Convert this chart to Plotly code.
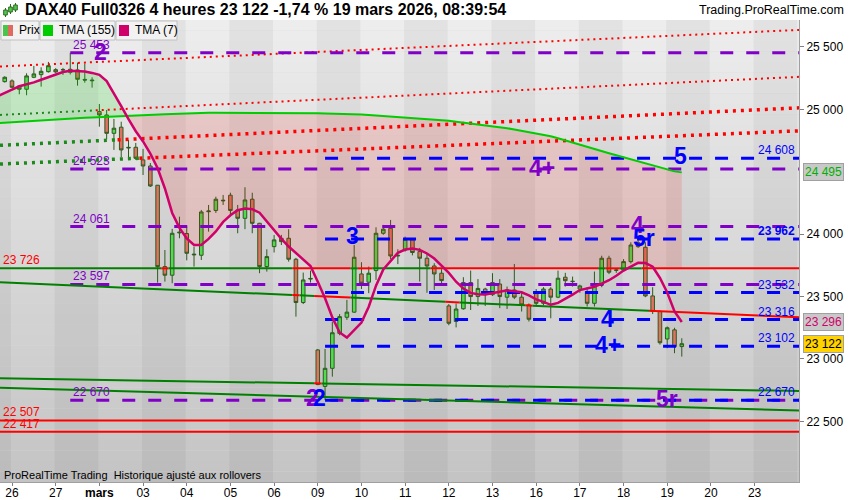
import plotly.graph_objects as go

# ---------------- data ----------------
bars = list(range(-1, 93))
opens = [25222, 25228, 25187, 25161, 25257, 25278, 25302, 25318, 25316, 25321, 25316, 25240, 25235,
         24982, 24955, 24808, 24857, 24690, 24696, 24595, 24546, 24392, 23740, 23671, 24010,
         24005, 23840, 23831, 24180, 24190, 24272, 24312, 24194, 24127, 24280, 24087, 23740,
         23900, 23967, 23967, 23799, 23452, 23640, 23072, 22780, 22925, 23205, 23334, 23375,
         23681, 23615, 23708, 24007, 24047, 23825, 23873, 23954, 23860, 23807, 23745, 23687,
         23425, 23300, 23402, 23612, 23500, 23560, 23515, 23600, 23495, 23553, 23495, 23433,
         23527, 23446, 23560, 23495, 23655, 23620, 23560, 23540, 23446, 23593, 23807, 23710,
         23713, 23780, 23932, 23895, 23505, 23380, 23160, 23233, 23099]
highs = [25265, 25240, 25195, 25289, 25348, 25337, 25380, 25330, 25332, 25453, 25374, 25364, 25257,
         25043, 24995, 24923, 24901, 24755, 24731, 24683, 24570, 24394, 23873, 24042, 24140,
         24060, 23900, 24194, 24234, 24300, 24314, 24332, 24234, 24376, 24332, 24090, 23879,
         23994, 23994, 24040, 23810, 23692, 23708, 23080, 23080, 23300, 23360, 23473, 23913,
         23775, 23740, 24055, 24074, 24114, 23879, 23980, 23965, 23890, 23847, 23767, 23720,
         23440, 23445, 23655, 23708, 23640, 23570, 23687, 23640, 23580, 23761, 23540, 23445,
         23560, 23575, 23575, 23708, 23690, 23660, 23595, 23575, 23700, 23827, 23827, 23727,
         23800, 23935, 23960, 23935, 23575, 23390, 23260, 23250, 23166]
lows = [25215, 25170, 25121, 25113, 25250, 25182, 25295, 25290, 25276, 25280, 25190, 25214, 25174,
        24861, 24760, 24675, 24616, 24608, 24595, 24474, 24378, 23611, 23620, 23607, 23967,
        23790, 23740, 23793, 24020, 24170, 24234, 24146, 24007, 24040, 24007, 23687, 23700,
        23853, 23913, 23780, 23339, 23440, 23612, 22790, 22670, 22858, 23190, 23313, 23370,
        23560, 23527, 23633, 23995, 23800, 23760, 23860, 23830, 23620, 23530, 23553, 23600,
        23270, 23253, 23395, 23392, 23425, 23425, 23505, 23407, 23400, 23480, 23380, 23300,
        23420, 23430, 23326, 23487, 23580, 23580, 23530, 23420, 23420, 23575, 23680, 23690,
        23700, 23765, 23890, 23495, 23360, 23115, 23086, 23046, 23019]
closes = [25257, 25177, 25161, 25268, 25284, 25305, 25350, 25300, 25318, 25297, 25241, 25235, 25230,
          24955, 24808, 24849, 24675, 24695, 24608, 24546, 24386, 23740, 23671, 24007, 24015,
          23847, 23835, 24178, 24185, 24280, 24268, 24190, 24127, 24274, 24087, 23740, 23820,
          23954, 23940, 23799, 23452, 23633, 23645, 22795, 22925, 23210, 23339, 23375, 23815,
          23607, 23687, 24007, 24040, 23825, 23830, 23960, 23853, 23807, 23745, 23681, 23628,
          23286, 23400, 23612, 23500, 23565, 23515, 23612, 23500, 23553, 23495, 23433, 23318,
          23446, 23560, 23495, 23647, 23627, 23622, 23585, 23446, 23593, 23807, 23695, 23712,
          23780, 23913, 23900, 23505, 23380, 23130, 23250, 23099, 23122]

ma_bars = list(range(-2, 93))
tma7 = [25105, 25135, 25159, 25185, 25200, 25216, 25237, 25257, 25276, 25299, 25310, 25309, 25304, 25292,
        25276, 25226, 25130, 25025, 24921, 24825, 24743, 24645, 24528, 24366, 24170, 24050, 23965, 23913,
        23913, 23962, 24022, 24098, 24151, 24192, 24206, 24200, 24172, 24102, 24023, 23962, 23901, 23849,
        23796, 23745, 23619, 23486, 23333, 23212, 23171, 23228, 23291, 23418, 23587, 23717, 23784, 23851,
        23877, 23885, 23874, 23845, 23805, 23751, 23689, 23619, 23564, 23529, 23518, 23516, 23525, 23538,
        23550, 23544, 23534, 23509, 23477, 23457, 23434, 23449, 23480, 23515, 23552, 23564, 23579, 23603,
        23631, 23667, 23708, 23740, 23770, 23768, 23739, 23649, 23532, 23381, 23296]
tma155 = [24889, 24893, 24897, 24901, 24905, 24909, 24912, 24915, 24919, 24922, 24926, 24929, 24932, 24935,
          24938, 24941, 24943, 24945, 24948, 24950, 24953, 24955, 24957, 24960, 24962, 24965, 24967, 24969,
          24972, 24972, 24973, 24973, 24974, 24974, 24974, 24974, 24974, 24973, 24973, 24972, 24972, 24971,
          24970, 24970, 24969, 24967, 24966, 24965, 24963, 24962, 24958, 24954, 24950, 24947, 24944, 24940,
          24936, 24931, 24926, 24921, 24917, 24913, 24908, 24901, 24894, 24887, 24880, 24873, 24865, 24859,
          24849, 24838, 24828, 24817, 24807, 24796, 24785, 24768, 24750, 24732, 24715, 24697, 24681, 24665,
          24648, 24632, 24616, 24600, 24584, 24567, 24551, 24535, 24519, 24503, 24495]

day_labels = ["26", "27", "<b>mars</b>", "03", "04", "05", "06", "09", "10", "11", "12", "13",
              "16", "17", "18", "19", "20", "23"]
day_first_bar = [0, 6, 12, 18, 24, 30, 36, 42, 48, 54, 60, 66, 72, 78, 84, 90, 96, 102]

purple_levels = [25453, 24523, 24061, 23597, 22670]
purple_from_bar = 8
blue_levels = [24608, 23962, 23532, 23316, 23102, 22670]
blue_from_bar = 43
sr_level = 23726
red_levels = [22507, 22417]
dotted_at_bar0 = [25348, 24960, 24716, 24566]
dotted_at_bar100 = [25615, 25238, 24990, 24808]
channel_at_bar0 = [23611, 22843, 22767]
channel_at_bar100 = [23354, 22751, 22600]

wave_text = ["2", "4+", "3", "4", "5r", "5", "4", "4+", "5r", "2", "2"]
wave_bar = [12.1, 72.8, 46.8, 85.9, 86.8, 91.8, 81.8, 81.9, 90.0, 41.3, 42.3]
wave_price = [25460, 24530, 23982, 24074, 23966, 24623, 23324, 23112, 22679, 22687, 22687]
wave_kind = ["p", "p", "b", "p", "b", "b", "b", "b", "p", "p", "b"]

y_ticks = [22500, 23000, 23500, 24000, 25000, 25500]

# ---------------- styling ----------------
FONT = "Liberation Sans, Arial, sans-serif"
NARROW = "Liberation Sans Narrow, Arial Narrow, Liberation Sans, sans-serif"
PURPLE = "#8000c8"
BLUE = "#0000ff"
RED = "#ff0000"
DGREEN = "#008000"
DOTGREEN = "#1a8a1a"
TMA7_C = "#d0006a"
TMA155_C = "#00cc00"
X_MIN, X_MAX = -1.65, 108.1
Y_MIN, Y_MAX = 22014, 25716
PW, PH, PTOP = 799, 462, 20


def px(x):
    return x / PW


def py(y):
    return (PTOP + PH - y) / PH


def fmt(v):
    return f"{int(round(v)):,}".replace(",", " ")


fig = go.Figure()
shapes = []

# background vertical gradient
n_bands = 44
for i in range(n_bands):
    t = (i + 0.5) / n_bands
    c = int(round(196 + (237 - 196) * t))
    shapes.append(dict(type="rect", xref="paper", yref="paper", x0=0, x1=1,
                       y0=i / n_bands, y1=(i + 1) / n_bands, line=dict(width=0),
                       fillcolor=f"rgb({c},{c},{c})", layer="below"))
# alternating day stripes
for d in range(-1, 19):
    if d % 2 != 0:
        x0 = max(X_MIN, 6 * d - 0.15)
        x1 = min(X_MAX, 6 * (d + 1) - 0.15)
        shapes.append(dict(type="rect", xref="x", yref="paper", x0=x0, x1=x1, y0=0, y1=1,
                           line=dict(width=0), fillcolor="rgba(0,0,0,0.045)", layer="below"))

# ---------------- fills between the averages ----------------
diff = [a - b for a, b in zip(tma7, tma155)]
ci = next(i for i in range(len(diff) - 1) if diff[i] > 0 >= diff[i + 1])
t = diff[ci] / (diff[ci] - diff[ci + 1])
xc = ma_bars[ci] + t
yc = tma155[ci] + t * (tma155[ci + 1] - tma155[ci])

gx = ma_bars[:ci + 1] + [xc] + ma_bars[:ci + 1][::-1]
gy = tma7[:ci + 1] + [yc] + tma155[:ci + 1][::-1]
fig.add_trace(go.Scatter(x=gx, y=gy, fill="toself", fillcolor="rgba(0,230,0,0.16)",
                         line=dict(width=0), mode="lines", hoverinfo="skip"))

up_x = [xc] + ma_bars[ci + 1:]
up_y = [yc] + tma155[ci + 1:]
pts = [(xc, yc)] + list(zip(ma_bars[ci + 1:], tma7[ci + 1:]))
low = []
for j, (x, y) in enumerate(pts):
    if j > 0:
        x0, y0 = pts[j - 1]
        if (y0 - sr_level) * (y - sr_level) < 0:
            tt = (sr_level - y0) / (y - y0)
            low.append((x0 + tt * (x - x0), sr_level))
    low.append((x, max(y, sr_level)))
px_ = up_x + [p[0] for p in low[::-1]]
py_ = up_y + [p[1] for p in low[::-1]]
fig.add_trace(go.Scatter(x=px_, y=py_, fill="toself", fillcolor="rgba(255,0,0,0.13)",
                         line=dict(width=0), mode="lines", hoverinfo="skip"))


# ---------------- lines coloured by the closes ----------------
def runs_for(p0, p100):
    def val(k):
        return p0 + (p100 - p0) * k / 100.0
    flags = [c >= val(k) for k, c in zip(bars, closes)]
    out, start, cur = [], X_MIN, flags[0]
    for idx in range(1, len(bars)):
        if flags[idx] != cur:
            edge = bars[idx] - 0.5
            out.append((start, edge, cur))
            start, cur = edge, flags[idx]
    out.append((start, X_MAX, cur))
    return [(a, b, f, val(a), val(b)) for a, b, f in out]


# dotted trend lines
for n, (p0, p1) in enumerate(zip(dotted_at_bar0, dotted_at_bar100)):
    w = 2 if n < 2 else 3.5
    dash = "2px,4px" if n < 2 else "3px,5px"
    for a, b, f, va, vb in runs_for(p0, p1):
        fig.add_trace(go.Scatter(x=[a, b], y=[va, vb], mode="lines", hoverinfo="skip",
                                 line=dict(color=DOTGREEN if f else RED, width=w, dash=dash)))

# purple / blue dashed levels
for lv in purple_levels:
    fig.add_trace(go.Scatter(x=[purple_from_bar, X_MAX], y=[lv, lv], mode="lines", hoverinfo="skip",
                             line=dict(color=PURPLE, width=3, dash="13px,13px")))
for lv in blue_levels:
    fig.add_trace(go.Scatter(x=[blue_from_bar, X_MAX], y=[lv, lv], mode="lines", hoverinfo="skip",
                             line=dict(color=BLUE, width=3, dash="13px,13px")))

# red levels
for lv in red_levels:
    fig.add_trace(go.Scatter(x=[X_MIN, X_MAX], y=[lv, lv], mode="lines", hoverinfo="skip",
                             line=dict(color=RED, width=2)))

# support/resistance + channel lines
for p0, p1 in [(sr_level, sr_level)] + list(zip(channel_at_bar0, channel_at_bar100)):
    for a, b, f, va, vb in runs_for(p0, p1):
        fig.add_trace(go.Scatter(x=[a, b], y=[va, vb], mode="lines", hoverinfo="skip",
                                 line=dict(color=DGREEN if f else RED, width=2)))

# ---------------- candles ----------------
fig.add_trace(go.Candlestick(
    x=bars, open=opens, high=highs, low=lows, close=closes, whiskerwidth=0,
    increasing=dict(fillcolor="#50dc50", line=dict(color="#2e5a1e", width=1)),
    decreasing=dict(fillcolor="#e07262", line=dict(color="#2e5a1e", width=1)),
    hoverinfo="skip"))

# ---------------- averages ----------------
fig.add_trace(go.Scatter(x=ma_bars, y=tma155, mode="lines", hoverinfo="skip",
                         line=dict(color=TMA155_C, width=2)))
fig.add_trace(go.Scatter(x=ma_bars, y=tma7, mode="lines", hoverinfo="skip",
                         line=dict(color=TMA7_C, width=2.5)))

# ---------------- annotations ----------------
ann = []
ann.append(dict(xref="paper", yref="paper", x=px(23), y=py(10), xanchor="left", yanchor="middle",
                text="<b>DAX40 Full0326 4 heures 23 122 -1,74 % 19 mars 2026, 08:39:54</b>",
                showarrow=False, font=dict(family=FONT, size=16, color="black")))
ann.append(dict(xref="paper", yref="paper", x=px(846), y=py(10), xanchor="right", yanchor="middle",
                text="Trading.ProRealTime.com", showarrow=False,
                font=dict(family=FONT, size=12.5, color="black")))
# title icon
for cx, top, bot, wt, wb in [(5.5, 10, 15, 8, 17), (10.5, 7, 12, 4, 14), (15.5, 5, 10, 3, 12)]:
    shapes.append(dict(type="line", xref="paper", yref="paper", x0=px(cx), x1=px(cx), y0=py(wt), y1=py(wb),
                       line=dict(color="#2e6a1e", width=1)))
    shapes.append(dict(type="rect", xref="paper", yref="paper", x0=px(cx - 1.8), x1=px(cx + 1.8),
                       y0=py(bot), y1=py(top), fillcolor="#50c850", line=dict(color="#2e6a1e", width=1)))
# legend boxes
for x0, x1 in [(1, 39), (40, 115), (116, 177)]:
    shapes.append(dict(type="rect", xref="paper", yref="paper", x0=px(x0), x1=px(x1), y0=py(40), y1=py(21),
                       fillcolor="#f2f2f2", line=dict(color="#c0c0c0", width=1)))
shapes.append(dict(type="rect", xref="paper", yref="paper", x0=px(3), x1=px(8), y0=py(36), y1=py(25),
                   fillcolor="#4cc44c", line=dict(width=0)))
shapes.append(dict(type="rect", xref="paper", yref="paper", x0=px(8), x1=px(13), y0=py(36), y1=py(25),
                   fillcolor="#e06a60", line=dict(width=0)))
shapes.append(dict(type="rect", xref="paper", yref="paper", x0=px(43), x1=px(53), y0=py(36), y1=py(25),
                   fillcolor=TMA155_C, line=dict(width=0)))
shapes.append(dict(type="rect", xref="paper", yref="paper", x0=px(119), x1=px(129), y0=py(36), y1=py(25),
                   fillcolor=TMA7_C, line=dict(width=0)))
for txt, x in [("Prix", 17), ("TMA (155)", 57), ("TMA (7)", 133)]:
    ann.append(dict(xref="paper", yref="paper", x=px(x), y=py(30.5), xanchor="left", yanchor="middle",
                    text=txt, showarrow=False, font=dict(family=FONT, size=12, color="black")))
# bottom note
ann.append(dict(xref="paper", yref="paper", x=px(2), y=py(475), xanchor="left", yanchor="middle",
                text="ProRealTime Trading  Historique ajusté aux rollovers", showarrow=False,
                font=dict(family=NARROW, size=11, color="black")))

# level labels
for lv in purple_levels:
    ann.append(dict(x=purple_from_bar, y=lv, xanchor="left", yanchor="bottom", xshift=1, yshift=-1,
                    text=fmt(lv), showarrow=False, font=dict(family=FONT, size=12, color=PURPLE)))
for lv in blue_levels:
    ann.append(dict(xref="paper", x=1, y=lv, xanchor="right", yanchor="bottom", xshift=-2, yshift=-1,
                    text=("<b>%s</b>" % fmt(lv)) if lv == 23962 else fmt(lv), showarrow=False,
                    font=dict(family=FONT, size=12, color=BLUE)))
for lv in [sr_level] + red_levels:
    ann.append(dict(xref="paper", x=0, y=lv, xanchor="left", yanchor="bottom", xshift=1, yshift=-1,
                    text=fmt(lv), showarrow=False, font=dict(family=FONT, size=12, color=RED)))

# wave labels
for txt, k, v, kind in zip(wave_text, wave_bar, wave_price, wave_kind):
    ann.append(dict(x=k, y=v, xanchor="center", yanchor="middle", text=txt, showarrow=False,
                    font=dict(family=FONT, size=23, color=PURPLE if kind == "p" else BLUE, weight="bold")))

# right axis value boxes
for v, col, bg in [(tma155[-1], "#00b000", "#c8c8c8"), (tma7[-1], TMA7_C, "#c8c8c8"),
                   (closes[-1], "black", "#ffd200")]:
    ann.append(dict(xref="paper", x=1, y=v, xanchor="left", yanchor="middle", xshift=4,
                    text=fmt(v), showarrow=False, bgcolor=bg, bordercolor="#a0a0a0", borderwidth=1,
                    borderpad=1, font=dict(family=FONT, size=12, color=col)))

fig.update_layout(
    width=850, height=500,
    margin=dict(l=0, r=850 - PW, t=PTOP, b=500 - PTOP - PH, pad=0),
    paper_bgcolor="white", plot_bgcolor="#d8d8d8",
    showlegend=False, hovermode=False,
    shapes=shapes, annotations=ann,
    xaxis=dict(range=[X_MIN, X_MAX], tickvals=day_first_bar, ticktext=day_labels, automargin=False,
               ticks="outside", ticklen=3, tickcolor="#808080", showgrid=False, zeroline=False,
               ticklabelstandoff=-3,
               showline=True, linecolor="#a0a0a0", rangeslider=dict(visible=False),
               tickfont=dict(family=FONT, size=12, color="black"), fixedrange=True),
    yaxis=dict(range=[Y_MIN, Y_MAX], side="right", tickvals=y_ticks, ticktext=[fmt(v) for v in y_ticks],
               automargin=False,
               ticks="outside", ticklen=4, tickcolor="#808080", showgrid=False, zeroline=False,
               showline=True, linecolor="#a0a0a0",
               tickfont=dict(family=FONT, size=12, color="black"), fixedrange=True),
)

fig.write_html("out.html", config={"displayModeBar": False, "staticPlot": True},
               post_script="document.body.style.margin='0';document.body.style.padding='0';"
                           "document.body.style.overflow='hidden';")
